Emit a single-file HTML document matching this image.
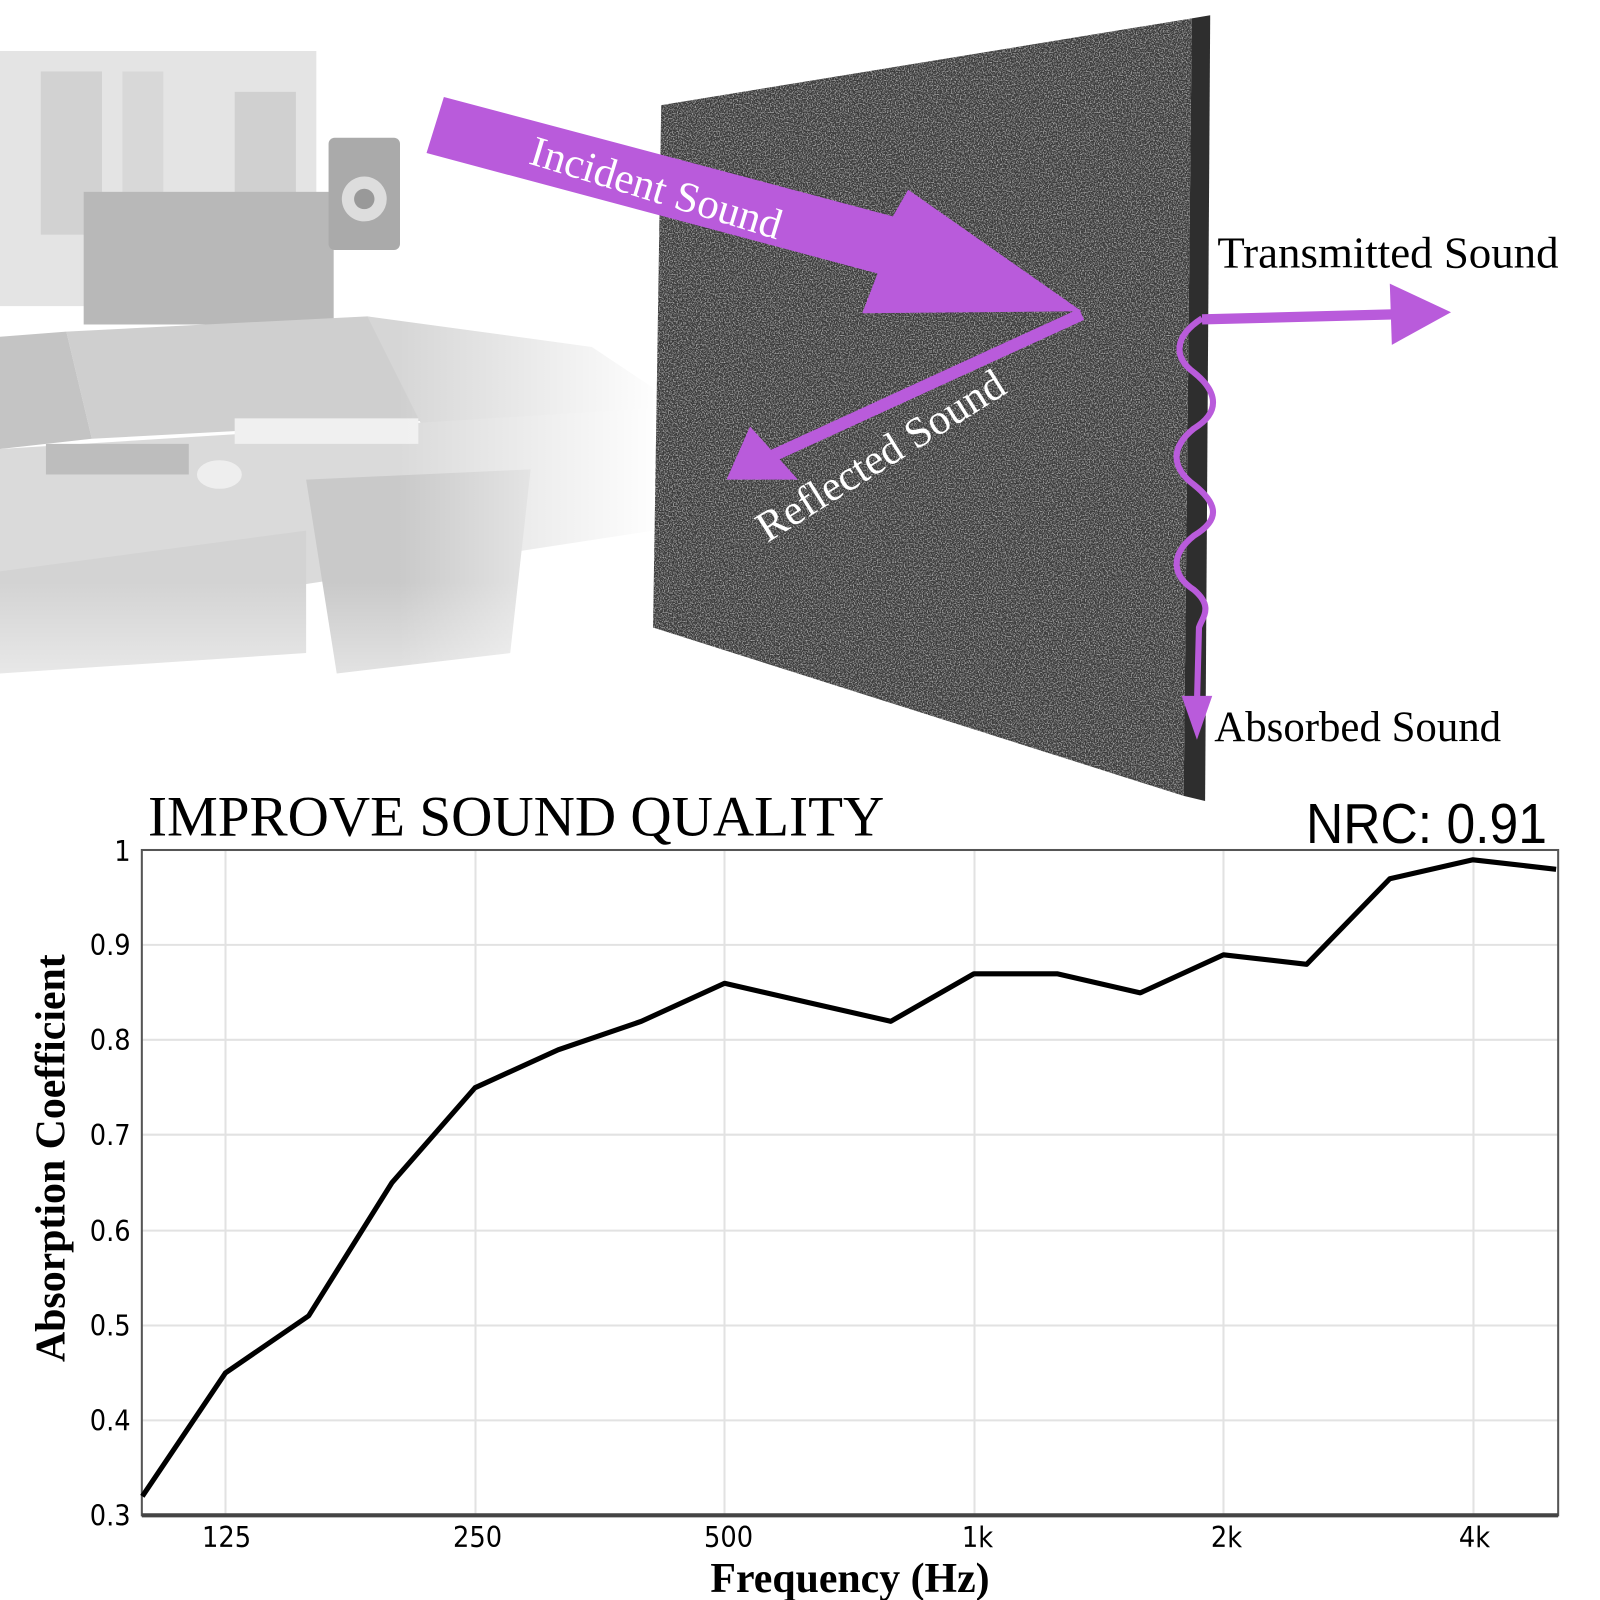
<!DOCTYPE html>
<html><head><meta charset="utf-8"><style>html,body{margin:0;padding:0;background:#fff}svg{display:block}</style></head>
<body>
<svg width="1600" height="1600" viewBox="0 0 1568 1568" xmlns="http://www.w3.org/2000/svg">
<defs>
<linearGradient id="fade" x1="0" y1="0" x2="0" y2="1">
<stop offset="0" stop-color="#fff" stop-opacity="0"/>
<stop offset="0.75" stop-color="#fff" stop-opacity="0"/>
<stop offset="1" stop-color="#fff" stop-opacity="1"/>
</linearGradient>
<linearGradient id="fadeR" x1="0" y1="0" x2="1" y2="0">
<stop offset="0.6" stop-color="#fff" stop-opacity="0"/>
<stop offset="1" stop-color="#fff" stop-opacity="1"/>
</linearGradient>
<filter id="noise" x="0" y="0" width="100%" height="100%">
<feTurbulence type="fractalNoise" baseFrequency="0.8" numOctaves="2" seed="3"/>
<feColorMatrix type="matrix" values="0 0 0 0 0.75  0 0 0 0 0.75  0 0 0 0 0.75  0 0 0 1.6 -0.75"/>
<feComposite in2="SourceGraphic" operator="in"/>
<feBlend in2="SourceGraphic" mode="screen"/>
</filter>
</defs>
<rect width="1568" height="1568" fill="#fff"/>
<g>
<rect x="0" y="50" width="310" height="250" fill="#e4e4e4"/>
<rect x="40" y="70" width="60" height="160" fill="#d2d2d2"/>
<rect x="120" y="70" width="40" height="120" fill="#d8d8d8"/>
<rect x="230" y="90" width="60" height="150" fill="#d0d0d0"/>
<rect x="82" y="188" width="245" height="130" fill="#b8b8b8"/>
<rect x="322" y="135" width="70" height="110" rx="6" fill="#aaa"/>
<circle cx="357" cy="195" r="22" fill="#ddd"/><circle cx="357" cy="195" r="10" fill="#999"/>
<polygon points="65,325 360,310 490,340 460,410 90,430" fill="#cfcfcf"/>
<polygon points="0,330 65,325 90,430 0,440" fill="#c4c4c4"/>
<polygon points="360,310 580,340 640,380 640,500 440,470" fill="#d6d6d6"/>
<polygon points="0,440 640,400 640,520 250,580 0,620" fill="#dadada"/>
<polygon points="300,470 520,460 500,640 330,660" fill="#c9c9c9"/>
<polygon points="0,560 300,520 300,640 0,660" fill="#d3d3d3"/>
<rect x="45" y="435" width="140" height="30" fill="#bdbdbd"/>
<rect x="230" y="410" width="180" height="25" fill="#f0f0f0"/>
<ellipse cx="215" cy="465" rx="22" ry="14" fill="#eee"/>
<rect x="0" y="0" width="650" height="760" fill="url(#fade)"/>
<rect x="0" y="0" width="650" height="760" fill="url(#fadeR)"/>
</g>
<polygon points="1168,18 1186,15 1181,785 1160,780" fill="#2e2e2e"/>
<polygon points="648,103 1168,18 1160,780 640,615" fill="#3a3a3a" filter="url(#noise)"/>
<polygon points="418,150 435,95 875,212 890,186 1060,305 845,307 860,268" fill="#b95bdb"/>
<text x="0" y="0" transform="translate(517,160) rotate(17)" font-family="Liberation Serif, serif" font-size="42" fill="#fff">Incident Sound</text>
<line x1="1060" y1="308" x2="750" y2="450" stroke="#b95bdb" stroke-width="12"/>
<polygon points="712,470 735,418 782,470" fill="#b95bdb"/>
<text x="0" y="0" transform="translate(752,532) rotate(-32)" font-family="Liberation Serif, serif" font-size="42" fill="#fff">Reflected Sound</text>
<line x1="1178" y1="313" x2="1370" y2="308" stroke="#b95bdb" stroke-width="10"/>
<polygon points="1422,306 1362,278 1364,338" fill="#b95bdb"/>
<text x="1193" y="262" font-family="Liberation Serif, serif" font-size="44" fill="#000">Transmitted Sound</text>
<path d="M1178,312 C1150,330 1150,350 1170,365 C1195,385 1195,405 1170,420 C1145,440 1150,460 1170,475 C1195,495 1195,510 1170,525 C1145,545 1150,565 1170,578 C1190,595 1178,605 1175,615 L1173,690" fill="none" stroke="#b95bdb" stroke-width="6"/>
<polygon points="1173,725 1158,682 1188,682" fill="#b95bdb"/>
<text x="1190" y="726" font-family="Liberation Serif, serif" font-size="42" fill="#000">Absorbed Sound</text>
<text x="145" y="819" font-family="Liberation Serif, serif" font-size="56" fill="#000">IMPROVE SOUND QUALITY</text>
<text x="1516" y="826" text-anchor="end" font-family="Liberation Sans, sans-serif" font-size="55" fill="#000" transform="translate(1516,0) scale(0.92,1) translate(-1516,0)">NRC: 0.91</text>
<g stroke="#e2e2e2" stroke-width="2">
<line x1="139" y1="926" x2="1527" y2="926"/><line x1="139" y1="1019" x2="1527" y2="1019"/>
<line x1="139" y1="1112" x2="1527" y2="1112"/><line x1="139" y1="1206" x2="1527" y2="1206"/>
<line x1="139" y1="1299" x2="1527" y2="1299"/><line x1="139" y1="1392" x2="1527" y2="1392"/>
<line x1="221" y1="833" x2="221" y2="1485"/><line x1="466" y1="833" x2="466" y2="1485"/>
<line x1="710" y1="833" x2="710" y2="1485"/><line x1="955" y1="833" x2="955" y2="1485"/>
<line x1="1199" y1="833" x2="1199" y2="1485"/><line x1="1444" y1="833" x2="1444" y2="1485"/>
</g>
<rect x="139" y="833" width="1388" height="652" fill="none" stroke="#555" stroke-width="2"/>
<line x1="139" y1="1485" x2="1527" y2="1485" stroke="#444" stroke-width="4"/>
<polyline fill="none" stroke="#000" stroke-width="5" stroke-linejoin="round" points="139.5,1466.4 221,1345.4 302.5,1289.5 384,1159.2 465.5,1066 547,1028.8 628.5,1000.9 710,963.6 791.5,982.3 873,1000.9 954.5,954.3 1036,954.3 1117.5,973 1199,935.7 1280.5,945 1362,861.2 1443.5,842.6 1525,851.9"/>
<g font-family="DejaVu Sans Condensed, DejaVu Sans, sans-serif" font-size="28" fill="#000" text-anchor="end">
<text x="128" y="844">1</text><text x="128" y="936">0.9</text><text x="128" y="1029">0.8</text>
<text x="128" y="1122">0.7</text><text x="128" y="1216">0.6</text><text x="128" y="1309">0.5</text>
<text x="128" y="1402">0.4</text><text x="128" y="1495">0.3</text>
</g>
<g font-family="DejaVu Sans Condensed, DejaVu Sans, sans-serif" font-size="28" fill="#000" text-anchor="middle">
<text x="222" y="1516">125</text><text x="468" y="1516">250</text><text x="714" y="1516">500</text>
<text x="958" y="1516">1k</text><text x="1202" y="1516">2k</text><text x="1445" y="1516">4k</text>
</g>
<text x="833" y="1560" text-anchor="middle" font-family="Liberation Serif, serif" font-weight="bold" font-size="41" fill="#000">Frequency (Hz)</text>
<text transform="translate(63,1135) rotate(-90)" text-anchor="middle" font-family="Liberation Serif, serif" font-weight="bold" font-size="41" fill="#000">Absorption Coefficient</text>
</svg>
</body></html>
